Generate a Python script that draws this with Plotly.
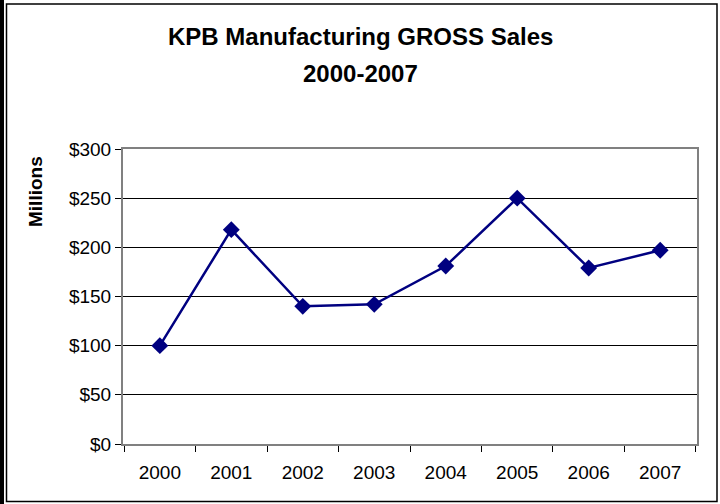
import plotly.graph_objects as go

# Data
years = ["2000", "2001", "2002", "2003", "2004", "2005", "2006", "2007"]
sales = [100, 218, 140, 142, 181, 250, 179, 197]
y_ticks = [0, 50, 100, 150, 200, 250, 300]
y_labels = ["$" + str(v) for v in y_ticks]

W, H = 720, 504
L, R, T, B = 123, 23, 149, 60
pw, ph = W - L - R, H - T - B


# pixel -> paper helpers
def px(x):
    return (x - L) / pw


def py(y):
    return (H - B - y) / ph


font = "Arial, Liberation Sans, sans-serif"

fig = go.Figure()
fig.add_trace(go.Scatter(
    x=years, y=sales, mode="lines+markers",
    line=dict(color="#000080", width=2.5),
    marker=dict(symbol="diamond", size=13, color="#000080"),
    showlegend=False,
))

fig.update_layout(
    width=W, height=H,
    margin=dict(l=L, r=R, t=T, b=B),
    paper_bgcolor="white", plot_bgcolor="white",
    font=dict(family=font, size=19, color="black"),
)

fig.update_xaxes(
    type="category", tickson="boundaries", ticks="outside", ticklen=6,
    tickcolor="black", showgrid=False, showline=True, linecolor="#808080",
    linewidth=2, mirror=True, tickfont=dict(size=19), ticklabelstandoff=10,
)
fig.update_yaxes(
    range=[0, 300], tickmode="array", tickvals=y_ticks, ticktext=y_labels,
    ticks="outside", ticklen=6, tickcolor="black", showgrid=True,
    gridcolor="black", gridwidth=1, showline=True, linecolor="#808080",
    linewidth=2, mirror=True, zeroline=False, tickfont=dict(size=19),
)

# Titles
fig.add_annotation(text="<b>KPB Manufacturing GROSS Sales</b>", x=px(360), y=py(36),
                   xref="paper", yref="paper", showarrow=False,
                   font=dict(size=24, family=font), xanchor="center", yanchor="middle")
fig.add_annotation(text="<b>2000-2007</b>", x=px(360), y=py(73),
                   xref="paper", yref="paper", showarrow=False,
                   font=dict(size=24, family=font), xanchor="center", yanchor="middle")
fig.add_annotation(text="<b>Millions</b>", x=px(35.5), y=py(191.5), textangle=-90,
                   xref="paper", yref="paper", showarrow=False,
                   font=dict(size=19, family=font), xanchor="center", yanchor="middle")

# Outer chart frame
fig.add_shape(type="rect", xref="paper", yref="paper",
              x0=px(6.5), x1=px(717), y0=py(501.5), y1=py(4),
              line=dict(color="black", width=1.5))
fig.add_shape(type="rect", xref="paper", yref="paper",
              x0=px(0), x1=px(4), y0=py(504), y1=py(0),
              line=dict(width=0), fillcolor="black")

# drop the default page margin so the figure sits at the window corner
fig.write_html("out.html", config={"displayModeBar": False},
               post_script="document.body.style.margin='0';")
